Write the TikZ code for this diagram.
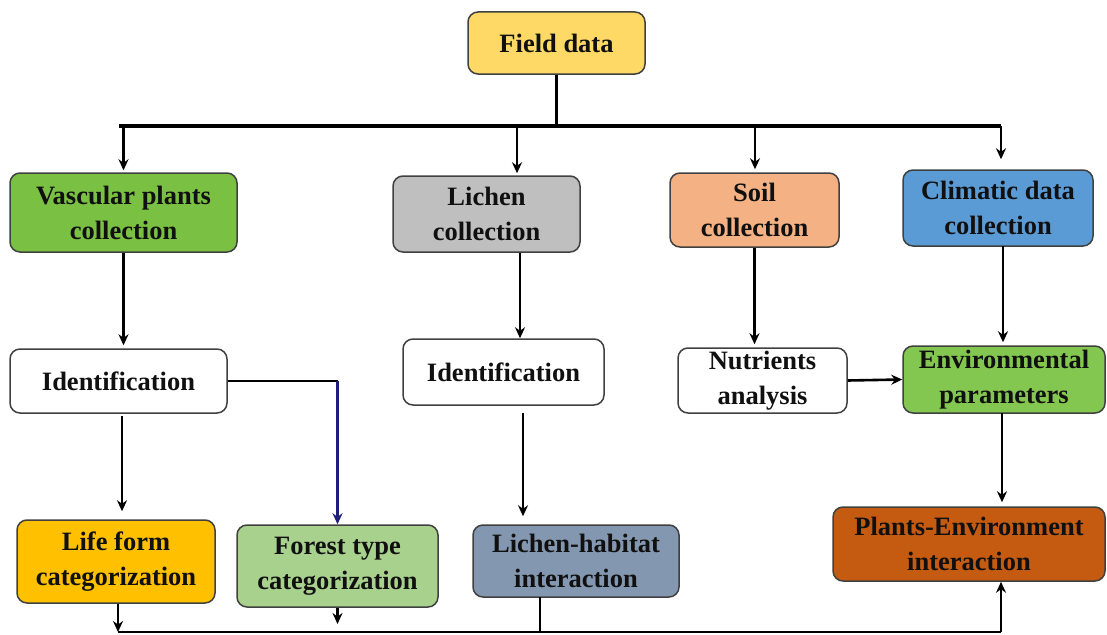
\documentclass[tikz,border=0pt]{standalone}
\usepackage{fontspec}
\setmainfont{Liberation Serif}
\usetikzlibrary{arrows.meta}
\definecolor{fieldc}{HTML}{FFD966}
\definecolor{vascc}{HTML}{7AC143}
\definecolor{lichc}{HTML}{BFBFBF}
\definecolor{soilc}{HTML}{F4B183}
\definecolor{climc}{HTML}{5B9BD5}
\definecolor{envc}{HTML}{84C750}
\definecolor{lifec}{HTML}{FFC000}
\definecolor{forc}{HTML}{A9D18E}
\definecolor{lhc}{HTML}{8497B0}
\definecolor{pec}{HTML}{C55A11}
\definecolor{edgec}{HTML}{404040}
\definecolor{txtc}{HTML}{101010}
\definecolor{navyc}{HTML}{1F1F7A}
\tikzset{
  box/.style={draw=edgec, line width=1.5pt, rounded corners=10pt, inner sep=0pt,
    align=center, text=txtc,
    font=\fontsize{26.5}{35}\selectfont\bfseries},
  link/.style={line width=2.6pt, draw=black},
  arr/.style={link, -{Stealth[length=11pt,width=10pt]}},
  bar/.style={line width=3.5pt, draw=black},
}
\begin{document}
\begin{tikzpicture}[x=1pt,y=-1pt]
\useasboundingbox (0,0) rectangle (1107,634);

% boxes
\node[box, fill=fieldc, minimum width=177pt, minimum height=62pt] (field) at (556.5,43) {Field data};
\node[box, fill=vascc, minimum width=227pt, minimum height=79pt] (vasc) at (123.5,212.5) {Vascular plants\\collection};
\node[box, fill=lichc, minimum width=187pt, minimum height=76pt] (lich) at (486.5,214) {Lichen\\collection};
\node[box, fill=soilc, minimum width=169pt, minimum height=74pt] (soil) at (754.5,210) {Soil\\collection};
\node[box, fill=climc, minimum width=190pt, minimum height=76pt] (clim) at (998,208) {Climatic data\\collection};
\node[box, fill=white, minimum width=217pt, minimum height=64pt] (idv) at (118.5,381) {Identification};
\node[box, fill=white, minimum width=201pt, minimum height=66pt] (idl) at (503.5,372) {Identification};
\node[box, fill=white, minimum width=169pt, minimum height=65pt] (nutr) at (762.5,380.5) {Nutrients\\analysis};
\node[box, fill=envc, minimum width=202pt, minimum height=67pt] (env) at (1004,379.5) {Environmental\\parameters};
\node[box, fill=lifec, minimum width=198pt, minimum height=83pt] (life) at (116,561.5) {Life form\\categorization};
\node[box, fill=forc, minimum width=201pt, minimum height=82pt] (forest) at (337.5,566) {Forest type\\categorization};
\node[box, fill=lhc, minimum width=206pt, minimum height=72pt] (lh) at (576,561) {Lichen-habitat\\interaction};
\node[box, fill=pec, minimum width=272pt, minimum height=74pt] (pe) at (969,544) {Plants-Environment\\interaction};

% distribution bar under the field data
\coordinate (barL) at (119,126);
\coordinate (barR) at (1001,126);
\coordinate (dLich) at (517,126);
\coordinate (dSoil) at (755,126);
\draw[link] (field.south) -- (field.south |- barL);
\draw[bar] (barL) -- (barR);
\draw[arr, shorten >=2pt] (vasc.north |- barL) -- (vasc.north);
\draw[arr, shorten >=2pt] (dLich) -- (dLich |- lich.north);
\draw[arr, shorten >=3pt] (dSoil) -- (dSoil |- soil.north);
\draw[arr, shorten >=10pt] (barR) -- (barR |- clim.north);

% vascular plants branch
\draw[arr, shorten >=3pt] (vasc.south) -- (vasc.south |- idv.north);
\coordinate (cLife) at (122,416);
\draw[arr, shorten >=8pt] (cLife) -- (cLife |- life.north);
\draw[link] (idv.east) -- (idv.east -| forest.north);
\draw[arr, draw=navyc] (idv.east -| forest.north) -- (forest.north);

% lichen branch
\coordinate (cLich) at (520,253);
\draw[arr] (cLich) -- (cLich |- idl.north);
\coordinate (cLh) at (523,413);
\draw[arr, shorten >=8pt] (cLh) -- (cLh |- lh.north);

% soil and climate branch
\draw[arr, shorten >=3pt] (soil.south) -- (soil.south |- nutr.north);
\coordinate (cEnv) at (1003,246);
\draw[arr, shorten >=3pt] (cEnv) -- (cEnv |- env.north);
\draw[arr] (nutr.east) -- (env.west);
\coordinate (cPe) at (1002,413);
\draw[arr, shorten >=4pt] (cPe) -- (cPe |- pe.north);

% collecting bar at the bottom
\coordinate (botL) at (118,632);
\coordinate (botR) at (1001,632);
\coordinate (cLhB) at (540,597);
\draw[arr] (botL |- life.south) -- (botL);
\draw[arr, shorten >=8pt] (forest.south) -- (forest.south |- botL);
\draw[link] (cLhB) -- (cLhB |- botL);
\draw[link] (botL) -- (botR);
\draw[arr] (botR) -- (botR |- pe.south);
\end{tikzpicture}
\end{document}
